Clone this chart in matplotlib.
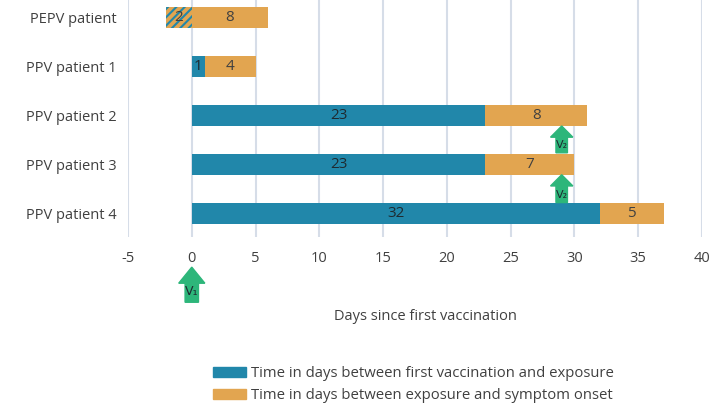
import matplotlib.pyplot as plt
from matplotlib.patches import Patch, FancyArrow

plt.rcParams['font.family'] = ['Open Sans', 'DejaVu Sans']
plt.rcParams['axes.unicode_minus'] = False
plt.rcParams['hatch.linewidth'] = 1.5

# data
patients = ["PEPV patient", "PPV patient 1", "PPV patient 2", "PPV patient 3", "PPV patient 4"]
exposure_days = [2, 1, 23, 23, 32]        # first vaccination -> exposure (PEPV: exposure before vaccination)
onset_days = [8, 4, 8, 7, 5]              # exposure -> symptom onset
pepv_drawn_onset = 6                      # PEPV orange part drawn from 0 to 6 in the source
v2_day = 29
v2_rows = [2, 3]
xticks = [-5, 0, 5, 10, 15, 20, 25, 30, 35, 40]

BLUE = "#2187aa"
ORANGE = "#e2a550"
GREEN = "#2db67a"
TXT = "#404040"

fig = plt.figure(figsize=(7.28, 4.09), dpi=100)
ax = fig.add_axes([128 / 728, 1 - 237.4 / 409, 574 / 728, 243.8 / 409])

h = 0.43
for i, name in enumerate(patients):
    if i == 0:
        # exposure before vaccination: hatched segment
        ax.barh(i, exposure_days[i], left=-exposure_days[i], height=h, color=ORANGE,
                hatch="////", edgecolor=BLUE, linewidth=0, zorder=3)
        ax.barh(i, pepv_drawn_onset, left=0, height=h, color=ORANGE, zorder=3)
        ax.text(-exposure_days[i] / 2, i, str(exposure_days[i]), ha="center", va="center",
                fontsize=11, color=TXT, zorder=4)
        ax.text(pepv_drawn_onset / 2, i, str(onset_days[i]), ha="center", va="center",
                fontsize=11, color=TXT, zorder=4)
    else:
        ax.barh(i, exposure_days[i], left=0, height=h, color=BLUE, zorder=3)
        ax.barh(i, onset_days[i], left=exposure_days[i], height=h, color=ORANGE, zorder=3)
        ax.text(exposure_days[i] / 2, i, str(exposure_days[i]), ha="center", va="center",
                fontsize=11, color="#1e2a30", zorder=4)
        ax.text(exposure_days[i] + onset_days[i] / 2, i, str(onset_days[i]), ha="center",
                va="center", fontsize=11, color=TXT, zorder=4)

ax.set_xlim(-5, 40)
ax.set_ylim(4.5, -0.5)
ax.set_xticks(xticks)
ax.set_yticks(range(len(patients)))
ax.set_yticklabels(patients)
ax.tick_params(length=0, labelsize=10.5, labelcolor=TXT)
ax.tick_params(axis="x", pad=10)
ax.tick_params(axis="y", pad=8)
for s in ax.spines.values():
    s.set_visible(False)
ax.grid(axis="x", color="#d6dde8", linewidth=1.5, zorder=0)
ax.set_axisbelow(True)

# V1 arrow below the axis at day 0
ax.add_patch(FancyArrow(0, 5.83, 0, -0.72, width=1.05, head_width=2.05, head_length=0.33,
                        length_includes_head=True, color=GREEN, clip_on=False, zorder=5))
ax.text(0, 5.6, "V₁", ha="center", va="center", fontsize=9, color="#1e2a30",
        family="DejaVu Sans", clip_on=False, zorder=6)

# V2 arrows
for r in v2_rows:
    top = r + h / 2
    bottom = r + 1 - h / 2 if r == 3 else top + 0.55
    ax.add_patch(FancyArrow(v2_day, bottom, 0, top - bottom, width=0.9, head_width=1.75,
                            head_length=0.23, length_includes_head=True, color=GREEN,
                            clip_on=False, zorder=5))
    ax.text(v2_day, bottom - 0.15, "V₂", ha="center", va="center", fontsize=8,
            color="#1e2a30", family="DejaVu Sans", clip_on=False, zorder=6)

fig.text(425 / 728, 1 - 317 / 409, "Days since first vaccination", ha="center", va="center",
         fontsize=10.5, color=TXT)

handles = [Patch(color=BLUE), Patch(color=ORANGE)]
labels = ["Time in days between first vaccination and exposure",
          "Time in days between exposure and symptom onset"]
fig.legend(handles, labels, loc="upper left", bbox_to_anchor=(207 / 728, 1 - 360 / 409),
           frameon=False, fontsize=10.7, handlelength=2.2, handleheight=0.7,
           handletextpad=0.35, labelspacing=0.5, borderaxespad=0, labelcolor=TXT)

fig.savefig("out.png", dpi=100)
